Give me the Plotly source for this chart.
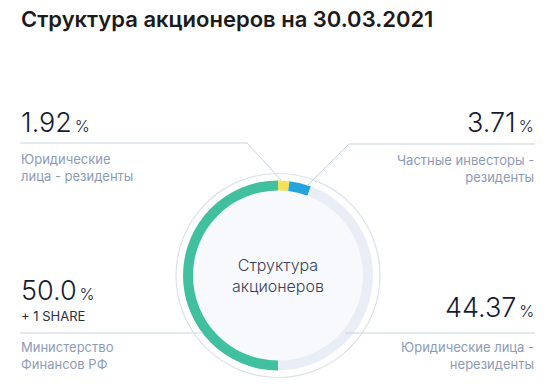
import plotly.graph_objects as go

# ---- data ----
labels = ["Юридические лица - резиденты", "Частные инвесторы - резиденты",
          "Юридические лица - нерезиденты", "Министерство Финансов РФ"]
values = [1.92, 3.71, 44.37, 50.0]
value_text = ["1.92", "3.71", "44.37", "50.0"]
slice_colors = ["#f2e15a", "#23a4dc", "#e9eef6", "#40c09f"]
title_text = "Структура акционеров на 30.03.2021"
center_text = "Структура<br>акционеров"

W, H = 560, 388
def px(x): return x / W
def py(y): return 1 - y / H

cx, cy, r = 278, 275.5, 95

fig = go.Figure()
fig.add_trace(go.Pie(
    labels=labels, values=values, sort=False, direction="clockwise", rotation=0,
    hole=85 / 95, marker=dict(colors=slice_colors, line=dict(width=0)),
    textinfo="none", hoverinfo="skip", showlegend=False,
    domain=dict(x=[px(cx - r), px(cx + r)], y=[py(cy + r), py(cy - r)]),
))

shapes = []
shapes.append(dict(type="circle", xref="paper", yref="paper", layer="below",
                   x0=px(cx - 86), x1=px(cx + 86), y0=py(cy + 86), y1=py(cy - 86),
                   fillcolor="#f7f9fd", line=dict(width=0)))
shapes.append(dict(type="circle", xref="paper", yref="paper", layer="below",
                   x0=px(cx - 102), x1=px(cx + 102), y0=py(cy + 102), y1=py(cy - 102),
                   fillcolor="rgba(0,0,0,0)", line=dict(color="#dbe2ea", width=1.2)))

line_col = "#cbd4e1"
def path(pts):
    d = "M " + " L ".join(f"{px(x)},{py(y)}" for x, y in pts)
    return dict(type="path", path=d, xref="paper", yref="paper",
                line=dict(color=line_col, width=1))
shapes.append(path([(20, 143), (247, 143), (281, 180)]))
shapes.append(path([(535, 144), (349, 144), (307, 186)]))
shapes.append(path([(20, 333), (203, 333)]))
shapes.append(path([(345, 333), (535, 333)]))

num_col = "#141c33"
lab_col = "#8e9bb7"
font = "Inter"

def num(t):
    return f"{t}<span style='font-size:16px'>\u2009%</span>"

ann = []
ann.append(dict(text=title_text, x=px(19), y=py(19), xanchor="left", yanchor="middle",
                font=dict(family=font, size=22, color="#1b1b1b", weight=600)))
ann.append(dict(text=num(value_text[0]), x=px(19), y=py(122), xanchor="left", yanchor="middle",
                font=dict(family=font, size=27, color=num_col, weight=300)))
ann.append(dict(text="Юридические<br>лица - резиденты", x=px(19), y=py(167), xanchor="left",
                yanchor="middle", align="left",
                font=dict(family=font, size=13, color=lab_col)))
ann.append(dict(text=num(value_text[1]), x=px(536), y=py(122), xanchor="right", yanchor="middle",
                font=dict(family=font, size=27, color=num_col, weight=300)))
ann.append(dict(text="Частные инвесторы -<br>резиденты", x=px(536), y=py(168), xanchor="right",
                yanchor="middle", align="right",
                font=dict(family=font, size=13, color=lab_col)))
ann.append(dict(text=num(value_text[3]), x=px(19), y=py(290), xanchor="left", yanchor="middle",
                font=dict(family=font, size=27, color=num_col, weight=300)))
ann.append(dict(text="+ 1 SHARE", x=px(19), y=py(316), xanchor="left", yanchor="middle",
                font=dict(family=font, size=13, color="#2a3040")))
ann.append(dict(text="Министерство<br>Финансов РФ", x=px(19), y=py(355), xanchor="left",
                yanchor="middle", align="left",
                font=dict(family=font, size=13, color=lab_col)))
ann.append(dict(text=num(value_text[2]), x=px(536), y=py(307), xanchor="right", yanchor="middle",
                font=dict(family=font, size=27, color=num_col, weight=300)))
ann.append(dict(text="Юридические лица -<br>нерезиденты", x=px(536), y=py(355), xanchor="right",
                yanchor="middle", align="right",
                font=dict(family=font, size=13, color=lab_col)))
ann.append(dict(text=center_text, x=px(cx), y=py(cy), xanchor="center", yanchor="middle",
                font=dict(family=font, size=16, color="#3a4256", weight=300)))
for a in ann:
    a.update(xref="paper", yref="paper", showarrow=False)

fig.update_layout(width=W, height=H, margin=dict(l=0, r=0, t=0, b=0),
                  paper_bgcolor="white", plot_bgcolor="white",
                  shapes=shapes, annotations=ann)
fig.write_html("out.html")
